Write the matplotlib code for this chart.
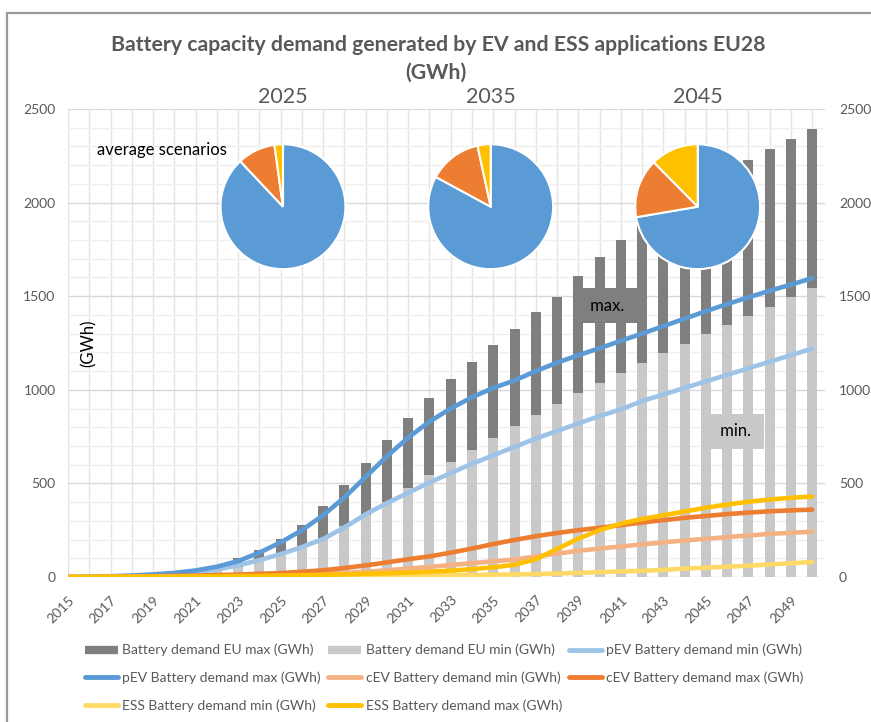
import matplotlib.pyplot as plt
from matplotlib.ticker import MultipleLocator
from matplotlib.lines import Line2D
from matplotlib.patches import Rectangle

plt.rcParams['font.family'] = ['Lato', 'DejaVu Sans']

# data (GWh)
years = list(range(2015, 2051))
eu_max = [2, 3, 5, 9, 15, 24, 38, 60,
          100, 143, 205, 280, 378, 490, 610, 731, 850, 957, 1059, 1150,
          1239, 1326, 1415, 1497, 1608, 1708, 1800, 1880, 1955, 2030,
          2100, 2165, 2228, 2287, 2340, 2392]
eu_min = [1, 2, 3, 5, 8, 12, 18, 30,
          55, 85, 125, 164, 210, 271, 333, 400, 473, 544, 615, 680,
          745, 805, 865, 925, 984, 1037, 1091, 1141, 1195, 1243,
          1296, 1344, 1396, 1444, 1494, 1545]
pev_min = [0, 1, 3, 5, 10, 16, 25, 40,
           62, 90, 122, 160, 203, 265, 335, 395, 450, 505, 555, 605,
           650, 695, 740, 780, 820, 860, 895, 940, 975, 1010,
           1045, 1080, 1115, 1150, 1185, 1220]
pev_max = [0, 2, 4, 8, 14, 22, 35, 55,
           85, 130, 185, 250, 330, 425, 535, 645, 745, 830, 900, 960,
           1010, 1050, 1100, 1145, 1185, 1222, 1262, 1300, 1340, 1380,
           1420, 1458, 1494, 1529, 1562, 1596]
cev_min = [0, 0, 1, 1, 2, 2, 3, 4,
           6, 8, 10, 13, 17, 22, 28, 36, 45, 54, 64, 74,
           84, 93, 110, 125, 140, 152, 163, 174, 185, 195,
           204, 213, 222, 230, 236, 242]
cev_max = [0, 1, 2, 3, 4, 6, 8, 10,
           13, 17, 21, 28, 36, 48, 62, 78, 95, 110, 130, 152,
           176, 198, 218, 235, 250, 263, 277, 291, 304, 316,
           326, 336, 344, 351, 356, 360]
ess_min = [0, 0, 0, 1, 1, 1, 2, 2,
           3, 3, 4, 4, 5, 6, 7, 8, 8, 9, 10, 11,
           12, 14, 16, 19, 22, 26, 30, 33, 38, 45,
           50, 55, 60, 67, 74, 80]
ess_max = [0, 0, 1, 1, 2, 2, 3, 4,
           5, 6, 8, 10, 12, 14, 17, 20, 24, 28, 34, 42,
           52, 65, 95, 150, 205, 250, 285, 310, 330, 350,
           370, 387, 402, 414, 423, 430]

# pie shares: pEV, cEV, ESS (%)
pie_years = ['2025', '2035', '2045']
pie_shares = [[88.0, 9.8, 2.2],
              [82.9, 13.7, 3.4],
              [72.3, 15.3, 12.4]]

W, H = 871, 722
def fx(px): return px / W
def fy(py): return 1 - py / H

grey_txt = '#595959'
fig = plt.figure(figsize=(W / 100, H / 100), dpi=100)

ax = fig.add_axes([fx(68), fy(577), fx(825) - fx(68), fy(109) - fy(577)])
ax.set_xlim(2015, 2050.6)
ax.set_ylim(0, 2500)

ax.bar(years, eu_max, width=0.47, color='#7f7f7f', zorder=2)
ax.bar(years, eu_min, width=0.47, color='#c9c9c9', zorder=2.1)

series = [
    (pev_min, '#9dc3e6', 'pEV Battery demand min (GWh)'),
    (pev_max, '#5b9bd5', 'pEV Battery demand max (GWh)'),
    (cev_min, '#f4b183', 'cEV Battery demand min (GWh)'),
    (cev_max, '#ed7d31', 'cEV Battery demand max (GWh)'),
    (ess_min, '#ffd966', 'ESS Battery demand min (GWh)'),
    (ess_max, '#ffc000', 'ESS Battery demand max (GWh)'),
]
for vals, col, lab in series:
    ax.plot(years, vals, color=col, lw=3.3, solid_capstyle='round',
            solid_joinstyle='round', zorder=4)

# grid
ax.set_axisbelow(True)
ax.yaxis.set_major_locator(MultipleLocator(500))
ax.yaxis.set_minor_locator(MultipleLocator(100))
ax.set_xticks(years)
ax.set_xticklabels([str(y) if (y - 2015) % 2 == 0 else '' for y in years],
                   rotation=45, ha='right', rotation_mode='anchor')
ax.grid(axis='y', which='major', color='#d9d9d9', lw=1)
ax.grid(axis='y', which='minor', color='#efefef', lw=1)
ax.grid(axis='x', which='major', color='#e4e4e4', lw=1)
for s in ax.spines.values():
    s.set_visible(False)
ax.tick_params(axis='x', length=0, pad=12, labelsize=10, labelcolor=grey_txt)
ax.tick_params(axis='y', which='both', length=0, pad=9, labelsize=10,
               labelcolor=grey_txt)

ax2 = ax.twinx()
ax2.set_ylim(0, 2500)
ax2.yaxis.set_major_locator(MultipleLocator(500))
for s in ax2.spines.values():
    s.set_visible(False)
ax2.tick_params(axis='y', length=0, pad=10, labelsize=10, labelcolor=grey_txt)

# annotation boxes
ax.text(2040.35, 1450, ' max. ', ha='center', va='center', fontsize=12,
        color='black', zorder=3,
        bbox=dict(boxstyle='square,pad=0.55', facecolor='#7f7f7f', edgecolor='none'))
ax.text(2046.4, 778, ' min. ', ha='center', va='center', fontsize=12,
        color='black', zorder=3,
        bbox=dict(boxstyle='square,pad=0.55', facecolor='#c9c9c9', edgecolor='none'))
ax.text(2015.95, 1250, '(GWh)', rotation=90, ha='center', va='center',
        fontsize=12, color='black')

# pies
cy, r = 206.7, 64.3
for cx, yr, shares in zip([283, 490.7, 697.7], pie_years, pie_shares):
    pax = fig.add_axes([fx(cx - r), fy(cy + r), 2 * r / W, 2 * r / H])
    pax.pie(shares, colors=['#5b9bd5', '#ed7d31', '#ffc000'], startangle=90,
            counterclock=False, wedgeprops=dict(edgecolor='white', linewidth=1.5))
    pax.set_xlim(-1.03, 1.03)
    pax.set_ylim(-1.03, 1.03)
    fig.text(fx(cx), fy(97), yr, ha='center', va='center', fontsize=15.5,
             color=grey_txt)

fig.text(fx(162), fy(150), 'average scenarios', ha='center', va='center',
         fontsize=12, color='black')

# title
fig.text(fx(438), fy(45), 'Battery capacity demand generated by EV and ESS applications EU28',
         ha='center', va='center', fontsize=15.3, fontweight='bold', color=grey_txt)
fig.text(fx(436), fy(73), '(GWh)', ha='center', va='center', fontsize=15.3,
         fontweight='bold', color=grey_txt)

# legend (row-wise order like the original)
h = {
    'A': Line2D([], [], color='#7f7f7f', lw=6, solid_capstyle='butt'),
    'B': Line2D([], [], color='#c9c9c9', lw=6, solid_capstyle='butt'),
}
labels = {'A': 'Battery demand EU max (GWh)', 'B': 'Battery demand EU min (GWh)'}
for key, (vals, col, lab) in zip('CDEFGH', series):
    h[key] = Line2D([], [], color=col, lw=3.5, solid_capstyle='round')
    labels[key] = lab
order = ['A', 'D', 'G', 'B', 'E', 'H', 'C', 'F']
fig.legend([h[k] for k in order], [labels[k] for k in order], ncol=3,
           loc='upper left', bbox_to_anchor=(fx(78), fy(637)), frameon=False,
           fontsize=10, handlelength=2.4, handletextpad=0.3, columnspacing=0.5,
           labelspacing=1.1, labelcolor=grey_txt, borderpad=0)

# outer frame of the chart
fig.patches.append(Rectangle((fx(7), -0.05), 1.2, fy(13) + 0.05,
                             transform=fig.transFigure, fill=False,
                             edgecolor='#999999', linewidth=1.6))

fig.savefig('out.png', dpi=100)
